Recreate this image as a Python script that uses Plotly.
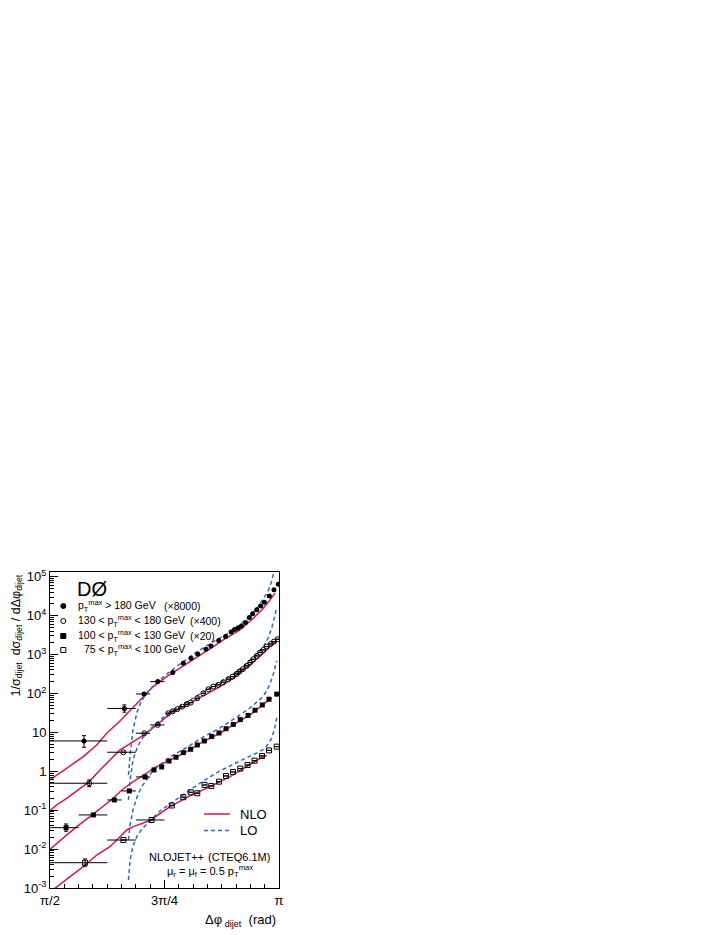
import numpy as np
import plotly.graph_objects as go

PI = np.pi

# measured points (values as plotted, already multiplied by the scale factor)
dphi_180 = [1.804, 2.081, 2.216, 2.310, 2.413, 2.485, 2.538, 2.584, 2.641, 2.675, 2.728, 2.775, 2.813,
            2.837, 2.860, 2.884, 2.912, 2.938, 2.961, 2.989, 3.016, 3.041, 3.075, 3.107, 3.137]
val_180 = [6.01, 41.1, 97.0, 201, 343, 597, 804, 1035, 1368, 1663, 2301, 2917, 3811,
           4416, 4831, 5433, 6683, 8892, 11070, 14030, 17740, 22080, 32060, 45810, 64120]

dphi_130 = [1.840, 2.074, 2.218, 2.310, 2.382, 2.413, 2.444, 2.478, 2.509, 2.536, 2.581, 2.622, 2.657,
            2.691, 2.725, 2.760, 2.794, 2.824, 2.852, 2.869, 2.893, 2.920, 2.943, 2.965, 2.989, 3.011,
            3.034, 3.057, 3.085, 3.107, 3.132]
val_130 = [0.492, 3.08, 9.48, 15.5, 31.0, 34.8, 39.3, 45.8, 52.7, 58.0, 75.3, 100, 128,
           150, 166, 194, 232, 270, 317, 363, 419, 509, 619, 757, 920, 1119,
           1313, 1596, 1872, 2147, 2473]

dphi_100 = [1.681, 1.868, 2.012, 2.115, 2.223, 2.284, 2.337, 2.387, 2.435, 2.485, 2.536, 2.581,
            2.629, 2.680, 2.730, 2.778, 2.828, 2.876, 2.929, 2.977, 3.027, 3.073, 3.126]
val_100 = [0.0355, 0.0754, 0.183, 0.312, 0.713, 1.08, 1.29, 1.84, 2.29, 3.01, 3.68, 4.74,
           6.01, 7.85, 9.65, 12.4, 16.0, 21.3, 27.2, 37.0, 50.6, 71.0, 95.9]

dphi_75 = [1.811, 2.074, 2.268, 2.406, 2.485, 2.536, 2.581, 2.631, 2.677, 2.730, 2.778, 2.826,
           2.876, 2.926, 2.974, 3.025, 3.073, 3.126]
val_75 = [0.00447, 0.0171, 0.0560, 0.132, 0.215, 0.288, 0.272, 0.445, 0.419, 0.541, 0.757, 0.959,
          1.17, 1.45, 1.87, 2.47, 3.43, 4.29]

# vertical errors of the first points (up, down)
err_180 = ([2.2, 9.5], [1.87, 8.2])
err_130 = ([0.105], [0.09])
err_100 = ([0.0087], [0.0068])
err_75 = ([0.0011], [0.00086])

# bin edges of the first points, in units of pi
bins_180 = [(1/2, 5/8), (5/8, 11/16), (11/16, 23/32), (23/32, 3/4)]
bins_130 = [(1/2, 5/8), (5/8, 11/16), (11/16, 23/32), (23/32, 3/4)]
bins_100 = [(1/2, 9/16), (9/16, 5/8), (5/8, 21/32), (21/32, 11/16), (11/16, 23/32)]
bins_75 = [(1/2, 5/8), (5/8, 11/16), (11/16, 3/4)]

# NLO predictions
nlo_x_180 = [1.571, 1.685, 1.799, 1.891, 1.960, 2.051, 2.142, 2.216, 2.279, 2.371, 2.463, 2.577,
             2.691, 2.760, 2.874, 2.965, 3.034, 3.080, 3.114]
nlo_180 = [0.597, 1.22, 2.37, 4.74, 9.48, 19.6, 45.0, 88.9, 150, 270, 445, 867,
           1596, 2371, 4285, 8570, 15490, 25350, 37670]
nlo_x_130 = [1.571, 1.617, 1.685, 1.765, 1.840, 1.914, 1.982, 2.051, 2.142, 2.216, 2.303, 2.394,
             2.509, 2.622, 2.737, 2.828, 2.943, 3.034, 3.092, 3.126]
nlo_130 = [0.0982, 0.136, 0.202, 0.330, 0.541, 1.08, 1.95, 3.53, 5.77, 8.57, 15.5, 29.7,
           50.6, 86.3, 150, 246, 541, 1080, 1766, 2147]
nlo_x_100 = [1.571, 1.662, 1.754, 1.845, 1.936, 2.005, 2.063, 2.142, 2.234, 2.279, 2.394, 2.509,
             2.622, 2.737, 2.828, 2.943, 3.057, 3.092]
nlo_100 = [0.00989, 0.0190, 0.0377, 0.0681, 0.123, 0.202, 0.330, 0.541, 0.889, 1.19, 1.95, 3.19,
           5.77, 9.48, 15.5, 28.0, 61.5, 75.3]
nlo_x_75 = [1.571, 1.708, 1.799, 1.891, 1.982, 2.063, 2.097, 2.142, 2.257, 2.394, 2.531, 2.668,
            2.806, 2.943, 3.011, 3.059]
nlo_75 = [0.00079, 0.00195, 0.00353, 0.00705, 0.0115, 0.0230, 0.0310, 0.0377, 0.0543, 0.123, 0.232, 0.402,
          0.726, 1.50, 2.13, 2.55]

# LO predictions
lo_x_180 = [2.109, 2.120, 2.140, 2.168, 2.195, 2.229, 2.291, 2.373, 2.463, 2.579, 2.689, 2.785,
            2.874, 2.943, 2.998, 3.039, 3.068, 3.092, 3.107, 3.121]
lo_180 = [0.804, 2.62, 11.5, 33.4, 60.4, 97.0, 175, 317, 573, 1167, 2109, 3388,
          5768, 9817, 16740, 28510, 43150, 78000, 132800, 226300]
lo_x_130 = [2.109, 2.120, 2.140, 2.168, 2.195, 2.234, 2.303, 2.394, 2.509, 2.622, 2.737, 2.828,
            2.909, 2.977, 3.034, 3.068, 3.092, 3.107, 3.126]
lo_130 = [0.183, 0.597, 1.95, 3.97, 6.38, 9.65, 17.5, 33.4, 60.4, 106, 186, 308,
          541, 920, 1567, 2673, 4831, 8222, 15780]
lo_x_100 = [2.109, 2.120, 2.140, 2.168, 2.195, 2.234, 2.279, 2.394, 2.509, 2.622, 2.737, 2.828,
            2.943, 3.023, 3.057, 3.080, 3.103, 3.126]
lo_100 = [0.0171, 0.0417, 0.101, 0.218, 0.372, 0.634, 1.08, 2.33, 4.09, 7.62, 13.0, 21.5,
          42.4, 76.6, 116, 175, 317, 684]
lo_x_75 = [2.109, 2.120, 2.140, 2.168, 2.202, 2.245, 2.325, 2.394, 2.509, 2.622, 2.737, 2.828,
           2.909, 2.989, 3.034, 3.057, 3.092, 3.114, 3.126]
lo_75 = [0.00161, 0.00525, 0.0120, 0.0217, 0.0329, 0.0469, 0.0953, 0.144, 0.294, 0.564, 1.02, 1.54,
         2.13, 2.95, 3.63, 4.47, 7.05, 13.8, 23.4]

FONT = "Liberation Sans, Arial, Helvetica, sans-serif"
NLO_COL = "#dc1450"
LO_COL = "#2f68cf"

fig = go.Figure()

for x, y in [(nlo_x_180, nlo_180), (nlo_x_130, nlo_130), (nlo_x_100, nlo_100), (nlo_x_75, nlo_75)]:
    fig.add_trace(go.Scatter(x=x, y=y, mode="lines", showlegend=False, hoverinfo="skip",
                             line=dict(color=NLO_COL, width=1.5)))
for x, y in [(lo_x_180, lo_180), (lo_x_130, lo_130), (lo_x_100, lo_100), (lo_x_75, lo_75)]:
    fig.add_trace(go.Scatter(x=x, y=y, mode="lines", showlegend=False, hoverinfo="skip",
                             line=dict(color=LO_COL, width=1.5, dash="4px,3px")))


def add_series(x, y, symbol, bins, err):
    n = len(x)
    xp = [0.0] * n
    xm = [0.0] * n
    for i, (lo, hi) in enumerate(bins):
        xp[i] = hi * PI - x[i]
        xm[i] = x[i] - lo * PI
    up, dn = err
    yp = list(up) + [0.0] * (n - len(up))
    ym = list(dn) + [0.0] * (n - len(dn))
    lw = 1 if symbol.endswith("open") else 0
    fig.add_trace(go.Scatter(
        x=x, y=y, mode="markers", showlegend=False,
        marker=dict(symbol=symbol, size=5, color="black", line=dict(color="black", width=lw)),
        error_x=dict(type="data", symmetric=False, array=xp, arrayminus=xm,
                     color="black", thickness=1, width=0),
        error_y=dict(type="data", symmetric=False, array=yp, arrayminus=ym,
                     color="black", thickness=1, width=2),
    ))


add_series(dphi_180, val_180, "circle", bins_180, err_180)
add_series(dphi_130, val_130, "circle-open", bins_130, err_130)
add_series(dphi_100, val_100, "square", bins_100, err_100)
add_series(dphi_75, val_75, "square-open", bins_75, err_75)

# the page adds an 8 px body margin, so the figure is drawn 8 px in from the corner
OFF = 8
W, H = 723 - OFF, 935 - OFF
# plot frame, in page pixels
L, R, T, B = 50, 279, 572, 888


def fx(px):
    return (px - L) / (R - L)


def fy(py):
    return (B - py) / (B - T)


ann = []


def text(px, py, s, size=11, xanchor="left", yanchor="middle", angle=0):
    ann.append(dict(x=fx(px), y=fy(py), xref="paper", yref="paper", text=s, showarrow=False,
                    xanchor=xanchor, yanchor=yanchor, textangle=angle,
                    font=dict(family=FONT, size=size, color="black")))


pt = "p<sub>T</sub><sup>max</sup>"
text(92, 589, "DØ", size=20, xanchor="center")
text(76, 606, pt + " > 180 GeV", size=10.5)
text(162.3, 606, "(×8000)", size=10.5)
text(76, 621, "130 < " + pt + " < 180 GeV", size=10.5)
text(188.3, 621, "(×400)", size=10.5)
text(76, 636, "100 < " + pt + " < 130 GeV", size=10.5)
text(188.3, 636, "(×20)", size=10.5)
text(81.7, 650, "75 < " + pt + " < 100 GeV", size=10.5)

text(238, 814, "NLO", size=13)
text(238, 830.5, "LO", size=13)
text(146.7, 856.5, "NLOJET++", size=11)
text(271.7, 856.5, "(CTEQ6.1M)", size=11, xanchor="right")
text(210, 871, "μ<sub>r</sub> = μ<sub>f</sub> = 0.5 " + pt, size=11, xanchor="center")

text(278, 920, "Δφ<sub> dijet</sub>\u00a0\u00a0(rad)", size=13, xanchor="right")
text(16.5, 573, "1/σ<sub>dijet</sub>\u00a0\u00a0dσ<sub>dijet</sub> / dΔφ<sub>dijet</sub>", size=12.5,
     xanchor="center", yanchor="top", angle=-90)

shapes = []
mk = 2.5
legend_marks = [(606, "circle", "black"), (621, "circle", "white"), (636, "rect", "black"), (650, "rect", "white")]
for py, kind, fill in legend_marks:
    shapes.append(dict(type=kind, xref="paper", yref="paper",
                       x0=fx(63.3 - mk), x1=fx(63.3 + mk), y0=fy(py + mk), y1=fy(py - mk),
                       fillcolor=fill, line=dict(color="black", width=1)))
shapes.append(dict(type="line", xref="paper", yref="paper", x0=fx(204), x1=fx(230), y0=fy(814), y1=fy(814),
                   line=dict(color=NLO_COL, width=1.5)))
shapes.append(dict(type="line", xref="paper", yref="paper", x0=fx(204), x1=fx(230), y0=fy(830.5), y1=fy(830.5),
                   line=dict(color=LO_COL, width=1.5, dash="4px,3px")))

x_major = [PI / 2, 5 * PI / 8, 3 * PI / 4, 7 * PI / 8, PI]
x_labels = ["π/2", "", "3π/4", "", "π"]
x_minor = [PI * k / 32 for k in range(16, 33)]
y_major = [10.0 ** k for k in range(-3, 6)]
y_labels = ["10<sup>-3</sup>", "10<sup>-2</sup>", "10<sup>-1</sup>", "1", "10",
            "10<sup>2</sup>", "10<sup>3</sup>", "10<sup>4</sup>", "10<sup>5</sup>"]
y_minor = [m * 10.0 ** k for k in range(-3, 5) for m in range(2, 10)]

fig.update_layout(
    width=W, height=H,
    margin=dict(l=L - OFF, r=W - (R - OFF), t=T - OFF, b=H - (B - OFF)),
    paper_bgcolor="white", plot_bgcolor="white",
    font=dict(family=FONT, size=13, color="black"),
    showlegend=False,
    annotations=ann, shapes=shapes,
    xaxis=dict(range=[PI / 2, PI], tickmode="array", tickvals=x_major, ticktext=x_labels,
               ticks="inside", ticklen=8, tickwidth=1, tickcolor="black",
               showline=True, mirror=True, linecolor="black", linewidth=1,
               showgrid=False, zeroline=False, tickfont=dict(size=13),
               minor=dict(tickmode="array", tickvals=x_minor, ticks="inside", ticklen=4,
                          tickcolor="black", showgrid=False)),
    yaxis=dict(type="log", range=[-3, 5.12], tickmode="array", tickvals=y_major, ticktext=y_labels,
               ticks="inside", ticklen=8, tickwidth=1, tickcolor="black",
               showline=True, mirror=True, linecolor="black", linewidth=1,
               showgrid=False, zeroline=False, tickfont=dict(size=13),
               minor=dict(tickmode="array", tickvals=y_minor, ticks="inside", ticklen=4,
                          tickcolor="black", showgrid=False)),
)

fig.write_html("out.html")
